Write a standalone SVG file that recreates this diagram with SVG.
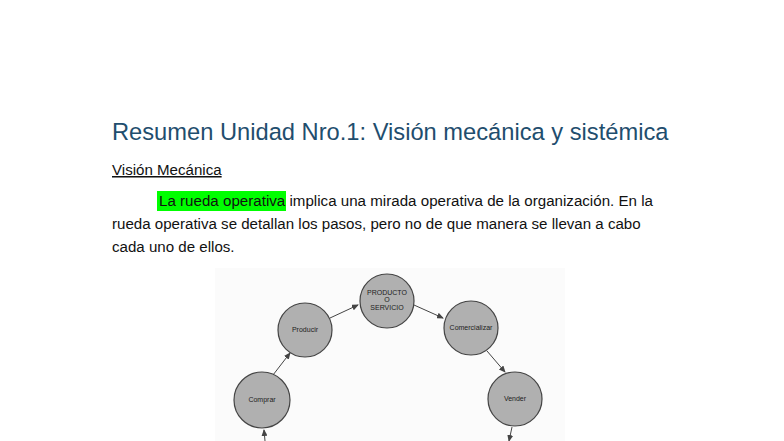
<svg xmlns="http://www.w3.org/2000/svg" width="784" height="441" viewBox="0 0 784 441">
<style>
.t{font-family:"Liberation Sans",Arial,sans-serif;font-size:15.1px;fill:#111}
.n circle{fill:#b0b0b0;stroke:#444;stroke-width:1.2}
.n text{font-family:"Liberation Sans",Arial,sans-serif;font-size:7px;fill:#222;text-anchor:middle}
.c line{stroke:#444;stroke-width:1;marker-end:url(#a)}
</style>
<defs><marker id="a" markerWidth="7" markerHeight="6" refX="6" refY="3" orient="auto"><path d="M0,0L7,3L0,6z" fill="#444"/></marker></defs>
<rect width="784" height="441" fill="#fff"/>
<text x="112" y="140" font-family="'Liberation Sans',Arial,sans-serif" font-size="23.7" fill="#1f4e6e">Resumen Unidad Nro.1: Visión mecánica y sistémica</text>
<text x="112" y="175" class="t" text-decoration="underline">Visión Mecánica</text>
<rect x="157" y="191" width="129" height="20" fill="#00ff00"/>
<text x="159" y="206" class="t" textLength="494" lengthAdjust="spacing">La rueda operativa implica una mirada operativa de la organización. En la</text>
<text x="112" y="229" class="t">rueda operativa se detallan los pasos, pero no de que manera se llevan a cabo</text>
<text x="112" y="252" class="t">cada uno de ellos.</text>
<rect x="215" y="268" width="350" height="173" fill="#fbfbfb"/>
<g class="c">
<line x1="265" y1="441" x2="264" y2="430"/>
<line x1="273" y1="375" x2="290" y2="353"/>
<line x1="330" y1="318" x2="358" y2="305"/>
<line x1="414" y1="305" x2="443" y2="318"/>
<line x1="487" y1="351" x2="505" y2="372"/>
<line x1="512" y1="427" x2="509" y2="441"/>
</g>
<g id="comprar" class="n"><circle cx="262" cy="400" r="28"/><text x="262" y="402">Comprar</text></g>
<g id="producir" class="n"><circle cx="305" cy="330" r="27"/><text x="305" y="332">Producir</text></g>
<g id="producto" class="n"><circle cx="387" cy="301" r="27"/><text x="387" y="295">PRODUCTO</text><text x="387" y="302">O</text><text x="387" y="310">SERVICIO</text></g>
<g id="comercializar" class="n"><circle cx="471" cy="328" r="27"/><text x="471" y="330">Comercializar</text></g>
<g id="vender" class="n"><circle cx="515" cy="399" r="27"/><text x="515" y="401">Vender</text></g>
</svg>
